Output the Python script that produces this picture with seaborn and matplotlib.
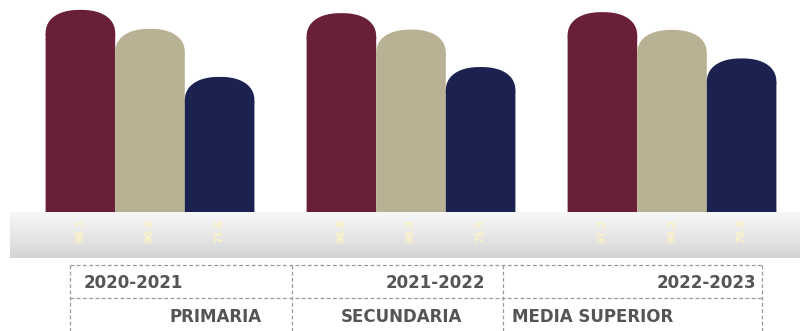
import numpy as np
import pandas as pd
import matplotlib
matplotlib.use("Agg")
import matplotlib.pyplot as plt
import seaborn as sns
from matplotlib.patches import Polygon
from matplotlib.colors import LinearSegmentedColormap

# datos
niveles = ["PRIMARIA", "SECUNDARIA", "MEDIA SUPERIOR"]
ciclos = ["2020-2021", "2021-2022", "2022-2023"]
val_2020_2021 = [98.1, 96.8, 97.2]
val_2021_2022 = [90.6, 90.3, 90.2]
val_2022_2023 = [71.6, 75.5, 78.9]
colores = ["#6a1f38", "#b8b193", "#1b2250"]

df = pd.DataFrame({
    "nivel": niveles * 3,
    "ciclo": [c for c in ciclos for _ in niveles],
    "valor": val_2020_2021 + val_2021_2022 + val_2022_2023,
})

sns.set_style("white")
plt.rcParams['font.family'] = ['DejaVu Sans']

W, H = 803, 331
fig = plt.figure(figsize=(W / 100, H / 100), dpi=100)

# eje principal: ocupa de y=0 a y=258 px
ax = fig.add_axes([0, 1 - 258 / H, 1, 258 / H])
sns.barplot(data=df, x="nivel", y="valor", hue="ciclo", order=niveles,
            hue_order=ciclos, palette=colores, width=0.8, ax=ax,
            legend=False, saturation=1, linewidth=0, zorder=2)

ax.set_xlim(-150 / 261, (803 - 150) / 261)
ax.set_ylim(0, 102)
ax.axis("off")

# tapas redondeadas
px_por_y = 258 / 102
cap = 24 / px_por_y
n = 2.3
for p in list(ax.patches):
    x0, w, h = p.get_x(), p.get_width(), p.get_height()
    if h <= 0:
        continue
    col = p.get_facecolor()
    p.set_height(h - cap)
    p.set_snap(False)
    t = np.linspace(0, np.pi, 100)
    ct, st = np.cos(t), np.sin(t)
    xs = x0 + w / 2 + (w / 2) * np.sign(ct) * np.abs(ct) ** (2 / n)
    ys = h - cap + cap * np.abs(st) ** (2 / n)
    xs = np.concatenate([[x0 + w], xs, [x0]])
    ys = np.concatenate([[h - cap - 0.6], ys, [h - cap - 0.6]])
    ax.add_patch(Polygon(np.column_stack([xs, ys]), closed=True, snap=False,
                         facecolor=col, edgecolor="none", lw=0, zorder=2))

# banda gris con degradado
grad = np.linspace(0, 1, 100).reshape(-1, 1)
cmap = LinearSegmentedColormap.from_list("g", ["#f7f7f7", "#e8e8e8", "#d4d4d4"])
ax.imshow(grad, aspect="auto", cmap=cmap, origin="upper",
          extent=[(10 - 150) / 261, (800 - 150) / 261, 0, 17.8], zorder=3)

# etiquetas de valor dentro de la banda
for i, serie in enumerate([val_2020_2021, val_2021_2022, val_2022_2023]):
    for j, v in enumerate(serie):
        xc = j + (i - 1) * 0.8 / 3
        ax.text(xc, 10.8, f"{v:.1f}", rotation=90, ha="center", va="center",
                fontsize=7, fontweight="bold", color="#fff3c0", alpha=0.85,
                zorder=4)

# tabla inferior
axt = fig.add_axes([0, 0, 1, 1], facecolor="none")
axt.set_xlim(0, W)
axt.set_ylim(H, 0)
axt.axis("off")
lc = "#9a9a9a"
for yy in [265, 298]:
    axt.plot([70, 762], [yy, yy], ls=(0, (3, 2)), color=lc, lw=0.9)
for xx in [70, 292, 503, 762]:
    axt.plot([xx, xx], [265, 331], ls=(0, (3, 2)), color=lc, lw=0.9)

tc = "#555555"
fs = 12
axt.text(84, 283, "2020-2021", ha="left", va="center", fontsize=fs, fontweight="bold", color=tc)
axt.text(485, 283, "2021-2022", ha="right", va="center", fontsize=fs, fontweight="bold", color=tc)
axt.text(756, 283, "2022-2023", ha="right", va="center", fontsize=fs, fontweight="bold", color=tc)
axt.text(262, 317, "PRIMARIA", ha="right", va="center", fontsize=fs, fontweight="bold", color=tc)
axt.text(401, 317, "SECUNDARIA", ha="center", va="center", fontsize=fs, fontweight="bold", color=tc)
axt.text(512, 317, "MEDIA SUPERIOR", ha="left", va="center", fontsize=fs, fontweight="bold", color=tc)

fig.savefig("out.png", dpi=100)
plt.close(fig)
